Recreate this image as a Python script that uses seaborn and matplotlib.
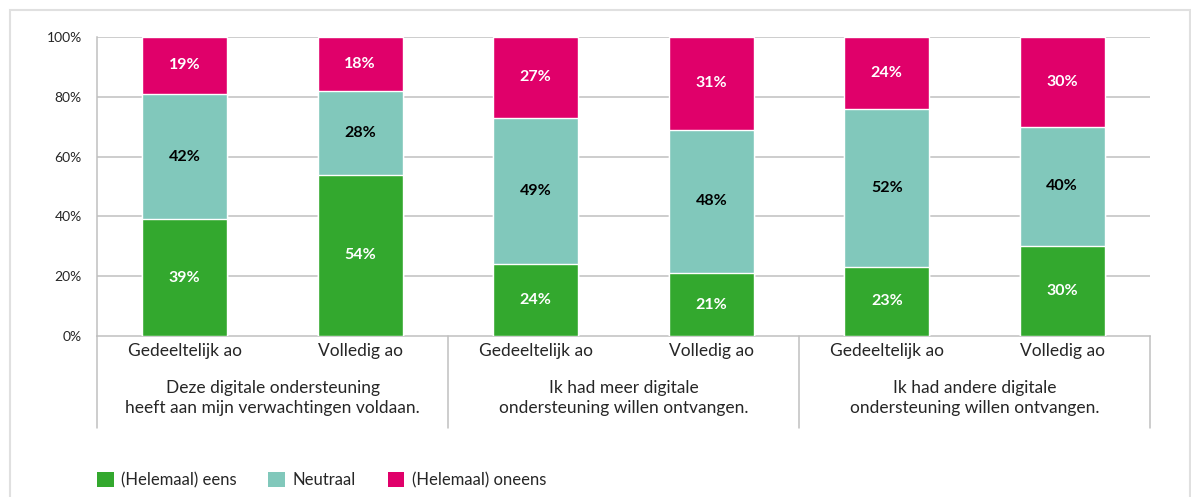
import pandas as pd
import seaborn as sns
import matplotlib.pyplot as plt
from matplotlib.patches import Patch, Rectangle

# Data
bar_ids = ['g1_ged', 'g1_vol', 'g2_ged', 'g2_vol', 'g3_ged', 'g3_vol']
categories = ['Gedeeltelijk ao', 'Volledig ao'] * 3
groups = ['Deze digitale ondersteuning\nheeft aan mijn verwachtingen voldaan.',
          'Ik had meer digitale\nondersteuning willen ontvangen.',
          'Ik had andere digitale\nondersteuning willen ontvangen.']
eens = [39, 54, 24, 21, 23, 30]
neutraal = [42, 28, 49, 48, 52, 40]
oneens = [19, 18, 27, 31, 24, 30]
series_names = ['(Helemaal) eens', 'Neutraal', '(Helemaal) oneens']

GREEN = '#33a82e'
TEAL = '#81c8bb'
PINK = '#e0006a'
GRID = '#c0c0c0'

df = pd.DataFrame({'bar': bar_ids, 'eens': eens, 'neutraal': neutraal, 'oneens': oneens})
# rescale to 100% (rounded labels do not always add up)
total = df['eens'] + df['neutraal'] + df['oneens']
df['h_eens'] = df['eens'] / total * 100
df['h_neutraal'] = df['h_eens'] + df['neutraal'] / total * 100
df['h_oneens'] = df['h_neutraal'] + df['oneens'] / total * 100

sns.set_style('white')
plt.rcParams['font.family'] = ['Lato', 'DejaVu Sans']

fig = plt.figure(figsize=(11.91, 4.97), dpi=100)
ax = fig.add_axes([97 / 1191, 1 - 336 / 497, (1150 - 97) / 1191, (336 - 37) / 497])

# stacked bars drawn as overlapping cumulative bars
for col, colr in [('h_oneens', PINK), ('h_neutraal', TEAL), ('h_eens', GREEN)]:
    sns.barplot(data=df, x='bar', y=col, order=bar_ids, color=colr, saturation=1,
                width=0.485, errorbar=None, ax=ax, zorder=3)

# segment labels
for i in range(len(df)):
    row = df.iloc[i]
    ax.text(i, row['h_eens'] / 2, f"{row['eens']}%", ha='center', va='center',
            color='white', fontsize=11.5, fontweight='bold', zorder=5)
    ax.text(i, (row['h_eens'] + row['h_neutraal']) / 2, f"{row['neutraal']}%", ha='center',
            va='center', color='black', fontsize=11.5, fontweight='bold', zorder=5)
    ax.text(i, (row['h_neutraal'] + row['h_oneens']) / 2, f"{row['oneens']}%", ha='center',
            va='center', color='white', fontsize=11.5, fontweight='bold', zorder=5)

ax.set_xlim(-0.5, 5.5)
ax.set_ylim(0, 100)
ax.set_yticks([0, 20, 40, 60, 80, 100])
ax.set_yticklabels([f'{v}%' for v in range(0, 101, 20)], fontsize=10)
ax.set_xticks(range(6))
ax.set_xticklabels(categories, fontsize=12.5)
ax.tick_params(axis='x', length=0, pad=5)
ax.tick_params(axis='y', length=0, pad=11)
ax.set_xlabel('')
ax.set_ylabel('')
for y in [20, 40, 60, 80, 100]:
    ax.axhline(y, color=GRID, lw=1.1, zorder=1)
for s in ['top', 'right']:
    ax.spines[s].set_visible(False)
ax.spines['left'].set_color(GRID)
ax.spines['bottom'].set_color(GRID)
ax.spines['left'].set_linewidth(1.1)
ax.spines['bottom'].set_linewidth(1.1)

# group dividers and labels below the axis
trans = ax.get_xaxis_transform()
for x in [-0.5, 1.5, 3.5, 5.5]:
    ax.plot([x, x], [0, -(428 - 336) / 299], color=GRID, lw=1.1, transform=trans, clip_on=False)
for k, g in enumerate(groups):
    ax.text(2 * k + 0.5, -(380 - 336) / 299, g, ha='center', va='top', fontsize=12.5,
            linespacing=1.3, transform=trans)

# legend
handles = [Patch(facecolor=c, edgecolor='none') for c in [GREEN, TEAL, PINK]]
fig.legend(handles, series_names, loc='center left', bbox_to_anchor=(82 / 1191, 1 - 480 / 497),
           ncol=3, frameon=False, fontsize=12, handlelength=1.0, handleheight=1.0,
           handletextpad=0.45, columnspacing=1.9)

# light frame round the chart
fig.patches.append(Rectangle((10 / 1191, -0.1), 1180 / 1191, 1.1 - 10 / 497,
                             transform=fig.transFigure, fill=False, edgecolor='#e0e0e0', lw=1.5))

fig.savefig('out.png', dpi=100)
